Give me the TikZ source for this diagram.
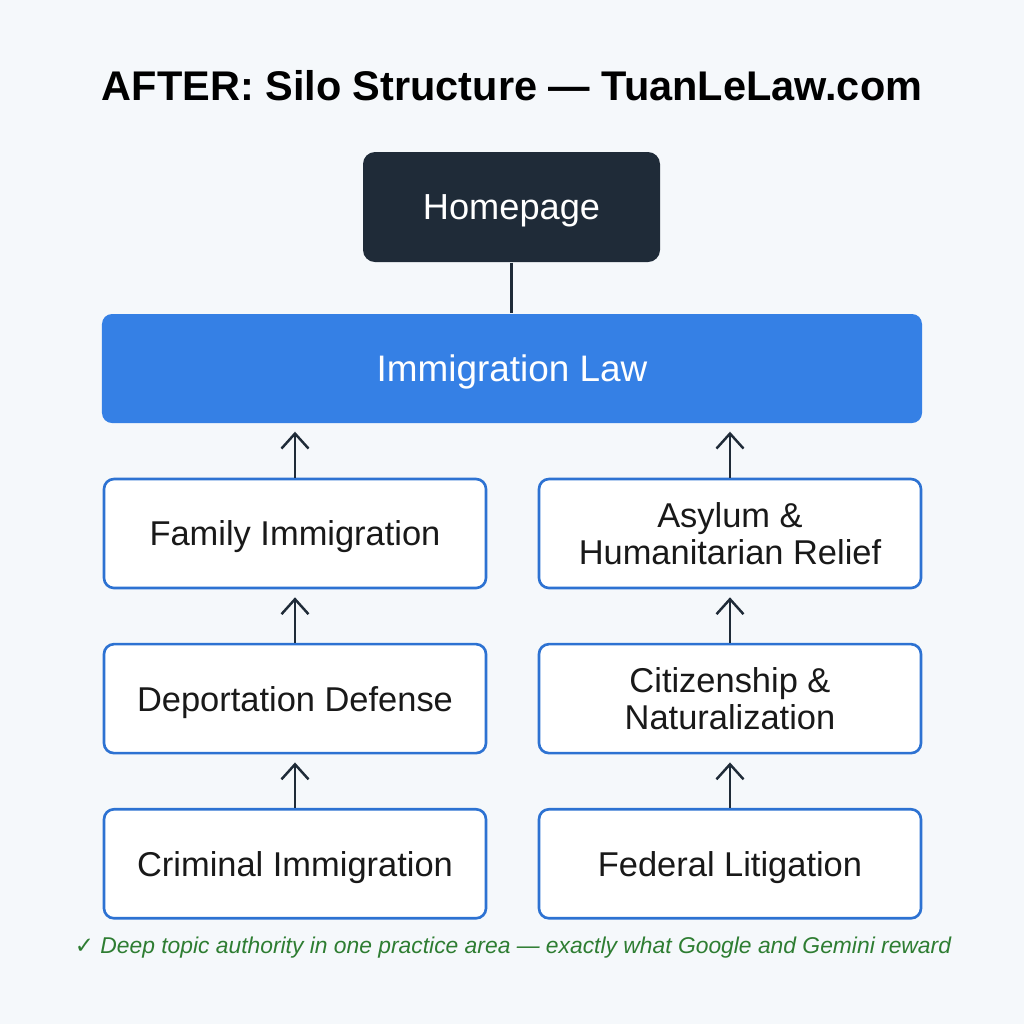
\documentclass[tikz,border=0pt]{standalone}
\usepackage{fontspec}
\setmainfont{Liberation Sans}
\newfontfamily\symfont{DejaVu Sans}
\usepackage{xcolor}
\usetikzlibrary{arrows.meta, positioning, calc}

\definecolor{pagebg}{HTML}{F5F8FB}
\definecolor{darknavy}{HTML}{1F2B38}
\definecolor{lawblue}{HTML}{3580E5}
\definecolor{edgeblue}{HTML}{2D72D2}
\definecolor{notegreen}{HTML}{2E7D32}

\begin{document}
\begin{tikzpicture}[
    silobox/.style={rectangle, draw=edgeblue, line width=0.75pt, fill=white,
        rounded corners=0.1cm, minimum width=3.82cm, minimum height=1.09cm,
        align=center, font=\fontsize{9.8}{10.5}\selectfont, text=black!90},
    oneline/.style={text depth=0pt},
    uplink/.style={draw=darknavy, line width=0.7pt,
        -{Straight Barb[length=1.5mm, width=2.7mm, line width=0.7pt]},
        shorten >=0.08cm},
    node distance=0.535cm
]
\fill[pagebg] (0,0) rectangle (10.24,-10.24);
\useasboundingbox (0,0) rectangle (10.24,-10.24);

\node (title) at (5.12,-0.86) {\fontsize{11.8}{14}\selectfont\bfseries AFTER: Silo Structure — TuanLeLaw.com};

\node (home) [rectangle, fill=darknavy, rounded corners=0.12cm, minimum width=2.97cm,
    minimum height=1.10cm, text=white, oneline, font=\fontsize{10.3}{12}\selectfont]
    at (5.115,-2.07) {Homepage};
\node (law) [rectangle, fill=lawblue, rounded corners=0.1cm, minimum width=8.20cm,
    minimum height=1.09cm, text=white, oneline, font=\fontsize{10.5}{12}\selectfont]
    at (5.12,-3.685) {Immigration Law};

% left silo
\node (family) [silobox, oneline] at (2.95,-5.335) {Family Immigration};
\node (deport) [silobox, oneline, below=of family] {Deportation Defense};
\node (criminal) [silobox, oneline, below=of deport] {Criminal Immigration};

% right silo
\node (asylum) [silobox] at (7.30,-5.335) {Asylum \&\\Humanitarian Relief};
\node (citizen) [silobox, below=of asylum] {Citizenship \&\\Naturalization};
\node (federal) [silobox, oneline, below=of citizen] {Federal Litigation};

\draw[darknavy, line width=0.6pt] (home.south) -- (home.south |- law.north);

\draw[uplink] (family.north) -- (family.north |- law.south);
\draw[uplink] (deport.north) -- (family.south);
\draw[uplink] (criminal.north) -- (deport.south);
\draw[uplink] (asylum.north) -- (asylum.north |- law.south);
\draw[uplink] (citizen.north) -- (asylum.south);
\draw[uplink] (federal.north) -- (citizen.south);

\node (note) [text=notegreen, font=\fontsize{6.5}{8}\selectfont] at (5.13,-9.48)
    {{\symfont ✓} \itshape Deep topic authority in one practice area — exactly what Google and Gemini reward};
\end{tikzpicture}
\end{document}
